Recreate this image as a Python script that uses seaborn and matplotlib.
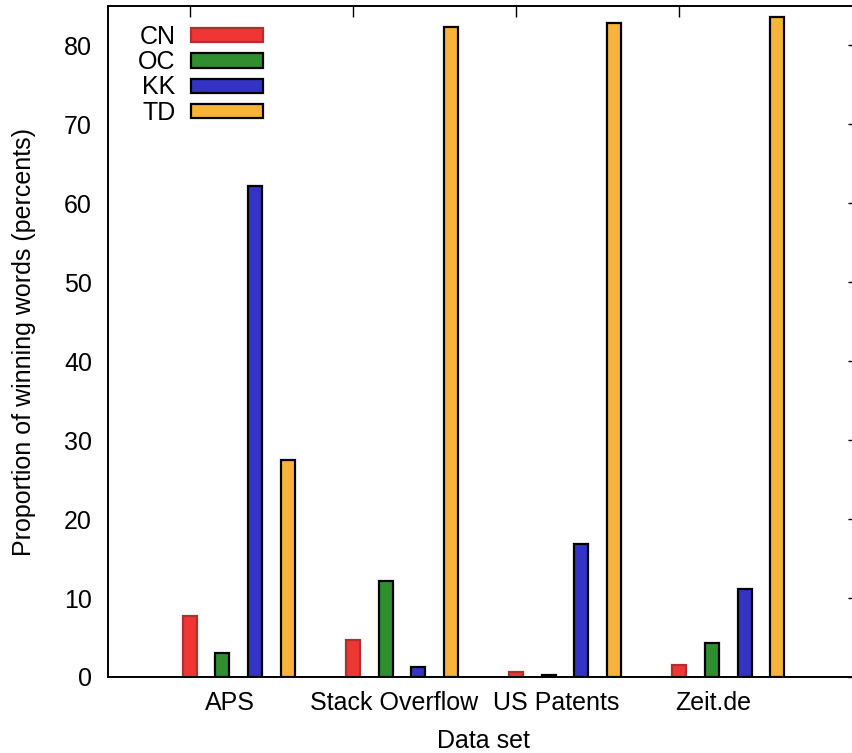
import matplotlib
matplotlib.use("Agg")
import matplotlib.pyplot as plt
import seaborn as sns
import pandas as pd
from matplotlib.patches import Patch

# Proportion of winning words per data set and method (percent)
datasets = ["APS", "Stack Overflow", "US Patents", "Zeit.de"]
methods = ["CN", "OC", "KK", "TD"]
cn = [7.7, 4.7, 0.6, 1.5]
oc = [3.1, 12.1, 0.2, 4.3]
kk = [62.2, 1.3, 16.8, 11.2]
td = [27.5, 82.4, 82.9, 83.6]
yticks = [0, 10, 20, 30, 40, 50, 60, 70, 80]

colors = {"CN": "#f03535", "OC": "#2f8f2f", "KK": "#3333c4", "TD": "#f8b43a"}
edges = {"CN": "#b03030", "OC": "black", "KK": "black", "TD": "black"}

df = pd.DataFrame({
    "Data set": datasets * 4,
    "method": ["CN"] * 4 + ["OC"] * 4 + ["KK"] * 4 + ["TD"] * 4,
    "value": cn + oc + kk + td,
})

sns.set_theme(style="white")
plt.rcParams["font.family"] = ["Liberation Sans", "DejaVu Sans"]
plt.rcParams["text.color"] = "black"
plt.rcParams["axes.labelcolor"] = "black"
plt.rcParams["xtick.color"] = "black"
plt.rcParams["ytick.color"] = "black"
FS = 18

fig = plt.figure(figsize=(8.53, 7.53), dpi=100)
W, H = 853, 753
left, right, top, bottom = 108, 859, 6, 677
ax = fig.add_axes([left / W, 1 - bottom / H, (right - left) / W, (bottom - top) / H])

sns.barplot(data=df, x="Data set", y="value", hue="method", order=datasets,
            hue_order=methods, palette=colors, width=0.8, gap=0.57,
            linewidth=1.6, edgecolor="black", saturation=1, ax=ax, legend=False)

# per-method edge colours
for container, m in zip(ax.containers, methods):
    for bar in container:
        bar.set_edgecolor(edges[m])

ax.set_xlim(-0.8, 3.8)
ax.set_ylim(0, 85)
ax.set_yticks(yticks)
ax.set_yticklabels([str(t) for t in yticks], fontsize=FS)

# tick marks at the first bar of each cluster, labels placed separately
n = len(datasets)
ax.set_xticks([i - 0.3 for i in range(n)])
ax.set_xticklabels([""] * n)
label_shift = [-0.05, -0.045, -0.055, -0.09]
ax.set_xticks([i + s for i, s in enumerate(label_shift)], minor=True)
ax.set_xticklabels(datasets, minor=True, fontsize=FS)
ax.tick_params(axis="x", which="minor", length=0, pad=10)
ax.tick_params(axis="both", which="major", direction="in", length=8,
               width=1.0, color="black", top=True, right=True)
ax.tick_params(axis="y", which="major", pad=11.5, labelsize=FS)

for s in ax.spines.values():
    s.set_color("black")
    s.set_linewidth(1.4)

ax.set_xlabel("Data set", fontsize=FS, labelpad=10)
ax.set_ylabel("Proportion of winning words (percents)", fontsize=FS, labelpad=20)

handles = [Patch(facecolor=colors[m], edgecolor=edges[m], linewidth=1.6, label=m)
           for m in methods]
leg = ax.legend(handles=handles, loc="upper left", frameon=False,
                markerfirst=False, handlelength=2.88, handleheight=0.5,
                handletextpad=0.64, labelspacing=0.05, fontsize=FS,
                bbox_to_anchor=(138 / W, 1 - 25 / H), bbox_transform=fig.transFigure,
                borderaxespad=0, borderpad=0)
for t in leg.get_texts():
    t.set_ha("right")

fig.savefig("out.png", dpi=100)
